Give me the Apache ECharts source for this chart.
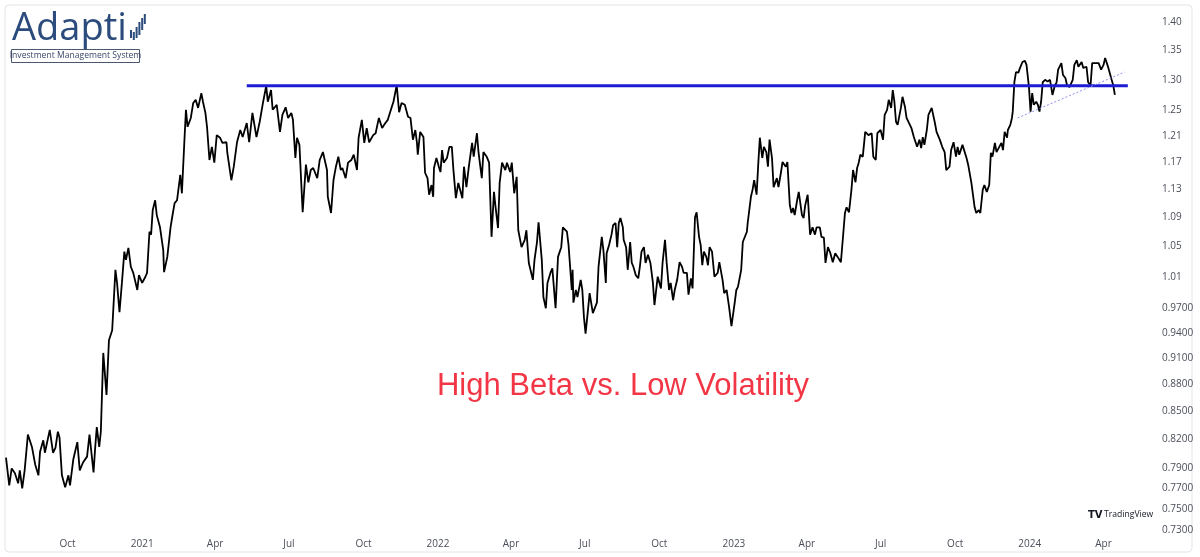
<!DOCTYPE html>
<html>
<head>
<meta charset="utf-8">
<script src="https://cdn.jsdelivr.net/npm/echarts@6/dist/echarts.min.js"></script>
<style>
html,body{margin:0;padding:0;background:#fff;}
#chart{width:1200px;height:557px;}
</style>
</head>
<body>
<div id="chart"></div>
<script>
// ---- Data ----
const dates = [
'2020-07-17','2020-07-21','2020-07-24','2020-07-28','2020-08-01','2020-08-03','2020-08-06','2020-08-09','2020-08-13','2020-08-18',
'2020-08-22','2020-08-26','2020-08-28','2020-09-01','2020-09-03','2020-09-09','2020-09-13','2020-09-16','2020-09-19','2020-09-21',
'2020-09-24','2020-09-28','2020-10-02','2020-10-04','2020-10-08','2020-10-13','2020-10-16','2020-10-20','2020-10-25','2020-10-28',
'2020-11-02','2020-11-04','2020-11-06','2020-11-09','2020-11-11','2020-11-14','2020-11-18','2020-11-21','2020-11-25','2020-11-29',
'2020-12-01','2020-12-04','2020-12-07','2020-12-10','2020-12-12','2020-12-15','2020-12-18','2020-12-21','2020-12-26','2020-12-28',
'2021-01-01','2021-01-05','2021-01-07','2021-01-10','2021-01-12','2021-01-14','2021-01-17','2021-01-19','2021-01-23','2021-01-27',
'2021-01-28','2021-02-01','2021-02-05','2021-02-07','2021-02-10','2021-02-13','2021-02-17','2021-02-19','2021-02-22','2021-02-24',
'2021-02-26','2021-03-02','2021-03-05','2021-03-08','2021-03-11','2021-03-15','2021-03-17','2021-03-20','2021-03-22','2021-03-25',
'2021-03-28','2021-03-31','2021-04-03','2021-04-07','2021-04-10','2021-04-15','2021-04-16','2021-04-21','2021-04-24','2021-04-28',
'2021-05-02','2021-05-05','2021-05-10','2021-05-13','2021-05-17','2021-05-22','2021-05-26','2021-05-30','2021-06-03','2021-06-05',
'2021-06-09','2021-06-11','2021-06-16','2021-06-20','2021-06-23','2021-06-27','2021-06-30','2021-07-04','2021-07-06','2021-07-09',
'2021-07-11','2021-07-14','2021-07-18','2021-07-22','2021-07-25','2021-07-28','2021-07-31','2021-08-05','2021-08-08','2021-08-12',
'2021-08-17','2021-08-18','2021-08-22','2021-08-25','2021-08-28','2021-08-31','2021-09-03','2021-09-05','2021-09-09','2021-09-12',
'2021-09-16','2021-09-19','2021-09-23','2021-09-25','2021-09-29','2021-10-02','2021-10-05','2021-10-08','2021-10-13','2021-10-16',
'2021-10-20','2021-10-24','2021-10-28','2021-10-31','2021-11-05','2021-11-07','2021-11-11','2021-11-14','2021-11-17','2021-11-21',
'2021-11-25','2021-11-28','2021-12-01','2021-12-04','2021-12-06','2021-12-07','2021-12-10','2021-12-14','2021-12-16','2021-12-19',
'2021-12-21','2021-12-24','2021-12-26','2021-12-27','2021-12-30','2022-01-02','2022-01-04','2022-01-06','2022-01-08','2022-01-12',
'2022-01-15','2022-01-18','2022-01-20','2022-01-23','2022-01-26','2022-01-31','2022-02-02','2022-02-05','2022-02-08','2022-02-12',
'2022-02-14','2022-02-18','2022-02-20','2022-02-24','2022-02-26','2022-03-02','2022-03-05','2022-03-08','2022-03-11','2022-03-13',
'2022-03-16','2022-03-18','2022-03-21','2022-03-25','2022-03-27','2022-03-31','2022-04-02','2022-04-05','2022-04-08','2022-04-10',
'2022-04-14','2022-04-18','2022-04-20','2022-04-23','2022-04-28','2022-04-30','2022-05-03','2022-05-05','2022-05-09','2022-05-11',
'2022-05-14','2022-05-16','2022-05-20','2022-05-22','2022-05-26','2022-05-29','2022-06-02','2022-06-04','2022-06-09','2022-06-11',
'2022-06-15','2022-06-16','2022-06-17','2022-06-20','2022-06-22','2022-06-26','2022-06-28','2022-06-30','2022-07-02','2022-07-05',
'2022-07-07','2022-07-11','2022-07-13','2022-07-16','2022-07-18','2022-07-22','2022-07-24','2022-07-27','2022-07-28','2022-07-31',
'2022-08-03','2022-08-05','2022-08-08','2022-08-10','2022-08-12','2022-08-14','2022-08-17','2022-08-18','2022-08-21','2022-08-23',
'2022-08-26','2022-08-28','2022-08-30','2022-09-02','2022-09-05','2022-09-07','2022-09-09','2022-09-12','2022-09-14','2022-09-17',
'2022-09-20','2022-09-23','2022-09-25','2022-09-29','2022-10-03','2022-10-05','2022-10-08','2022-10-10','2022-10-13','2022-10-15',
'2022-10-18','2022-10-20','2022-10-23','2022-10-26','2022-10-29','2022-10-31','2022-11-04','2022-11-06','2022-11-09','2022-11-11',
'2022-11-14','2022-11-16','2022-11-19','2022-11-21','2022-11-23','2022-11-25','2022-11-28','2022-11-30','2022-12-02','2022-12-05',
'2022-12-08','2022-12-12','2022-12-14','2022-12-18','2022-12-20','2022-12-23','2022-12-26','2022-12-29','2023-01-02','2023-01-04',
'2023-01-06','2023-01-10','2023-01-12','2023-01-17','2023-01-18','2023-01-22','2023-01-24','2023-01-26','2023-01-29','2023-01-31',
'2023-02-02','2023-02-05','2023-02-07','2023-02-10','2023-02-12','2023-02-14','2023-02-17','2023-02-19','2023-02-23','2023-02-25',
'2023-02-28','2023-03-02','2023-03-06','2023-03-08','2023-03-11','2023-03-13','2023-03-15','2023-03-17','2023-03-20','2023-03-22',
'2023-03-26','2023-03-28','2023-03-30','2023-04-02','2023-04-03','2023-04-05','2023-04-08','2023-04-11','2023-04-13','2023-04-17',
'2023-04-19','2023-04-22','2023-04-24','2023-04-27','2023-04-30','2023-05-03','2023-05-06','2023-05-09','2023-05-13','2023-05-15',
'2023-05-18','2023-05-20','2023-05-23','2023-05-26','2023-05-28','2023-05-31','2023-06-02','2023-06-04','2023-06-06','2023-06-09',
'2023-06-12','2023-06-16','2023-06-20','2023-06-22','2023-06-25','2023-06-27','2023-07-01','2023-07-04','2023-07-06','2023-07-09',
'2023-07-11','2023-07-14','2023-07-16','2023-07-18','2023-07-20','2023-07-22','2023-07-26','2023-07-28','2023-07-31','2023-08-02',
'2023-08-04','2023-08-08','2023-08-11','2023-08-13','2023-08-15','2023-08-18','2023-08-20','2023-08-22','2023-08-24','2023-08-27',
'2023-08-29','2023-09-02','2023-09-04','2023-09-06','2023-09-08','2023-09-12','2023-09-15','2023-09-18','2023-09-20','2023-09-24',
'2023-09-26','2023-09-29','2023-10-02','2023-10-04','2023-10-06','2023-10-10','2023-10-12','2023-10-15','2023-10-17','2023-10-21',
'2023-10-25','2023-10-27','2023-10-30','2023-11-01','2023-11-04','2023-11-06','2023-11-09','2023-11-12','2023-11-14','2023-11-16',
'2023-11-19','2023-11-21','2023-11-23','2023-11-27','2023-11-29','2023-12-01','2023-12-04','2023-12-05','2023-12-08','2023-12-10',
'2023-12-11','2023-12-13','2023-12-15','2023-12-18','2023-12-20','2023-12-23','2023-12-26','2023-12-28','2023-12-31','2024-01-02',
'2024-01-04','2024-01-06','2024-01-09','2024-01-11','2024-01-13','2024-01-15','2024-01-17','2024-01-20','2024-01-23','2024-01-26',
'2024-01-29','2024-02-01','2024-02-03','2024-02-05','2024-02-09','2024-02-11','2024-02-14','2024-02-16','2024-02-19','2024-02-23',
'2024-02-25','2024-02-28','2024-03-01','2024-03-05','2024-03-07','2024-03-11','2024-03-13','2024-03-16','2024-03-18','2024-03-21',
'2024-03-23','2024-03-26','2024-03-29','2024-04-01','2024-04-03','2024-04-05','2024-04-07','2024-04-09','2024-04-11','2024-04-13',
'2024-04-15'
];
const values = [
0.801,0.773,0.790,0.785,0.775,0.788,0.770,0.788,0.825,0.812,
0.794,0.783,0.807,0.819,0.806,0.830,0.806,0.811,0.828,0.822,
0.783,0.771,0.783,0.773,0.799,0.817,0.788,0.796,0.802,0.825,
0.786,0.811,0.833,0.812,0.828,0.916,0.868,0.931,0.943,1.019,
1.002,0.965,1.002,1.043,1.032,1.048,1.023,1.015,0.993,1.012,
1.002,1.010,1.015,1.070,1.066,1.100,1.114,1.093,1.076,1.045,
1.016,1.036,1.076,1.090,1.110,1.114,1.151,1.124,1.200,1.251,
1.224,1.238,1.262,1.267,1.254,1.278,1.264,1.246,1.224,1.173,
1.193,1.169,1.211,1.207,1.199,1.200,1.184,1.143,1.163,1.200,
1.219,1.208,1.230,1.200,1.246,1.208,1.232,1.262,1.290,1.264,
1.283,1.251,1.259,1.216,1.243,1.255,1.238,1.246,1.235,1.176,
1.207,1.196,1.097,1.166,1.140,1.158,1.161,1.146,1.173,1.185,
1.158,1.119,1.096,1.143,1.163,1.178,1.158,1.161,1.146,1.169,
1.173,1.181,1.158,1.207,1.235,1.199,1.222,1.200,1.211,1.214,
1.238,1.222,1.230,1.235,1.256,1.264,1.291,1.247,1.262,1.259,
1.240,1.238,1.204,1.219,1.199,1.181,1.216,1.208,1.154,1.146,
1.122,1.136,1.119,1.161,1.176,1.163,1.155,1.188,1.169,1.176,
1.193,1.193,1.158,1.117,1.139,1.117,1.163,1.133,1.163,1.199,
1.178,1.214,1.184,1.146,1.185,1.178,1.169,1.063,1.126,1.104,
1.075,1.139,1.169,1.158,1.169,1.155,1.169,1.124,1.148,1.072,
1.049,1.059,1.072,1.028,1.006,1.032,1.055,1.083,1.032,0.984,
0.970,1.002,1.016,1.021,0.970,1.036,1.049,1.076,1.070,1.052,
0.993,1.019,0.977,0.993,0.984,1.006,0.993,0.959,0.939,0.968,
0.989,0.964,0.964,0.977,1.023,1.063,1.045,1.002,1.041,1.052,
1.066,1.079,1.082,1.049,1.082,1.089,1.076,1.059,1.049,1.019,
1.056,1.028,1.023,1.012,1.008,1.023,1.043,1.049,1.028,1.039,
1.028,1.003,0.974,1.010,0.995,1.028,1.059,1.029,0.993,1.002,
0.980,0.993,1.006,1.029,1.023,1.015,1.015,0.987,1.008,0.995,
1.090,1.097,1.063,1.052,1.025,1.043,1.036,1.025,1.049,1.043,
1.010,1.015,1.029,1.006,0.989,0.993,0.972,0.948,0.977,0.993,
0.997,1.019,1.056,1.070,1.082,1.119,1.129,1.143,1.122,1.166,
1.207,1.176,1.193,1.185,1.163,1.204,1.176,1.133,1.146,1.133,
1.154,1.170,1.163,1.170,1.107,1.096,1.103,1.093,1.114,1.126,
1.093,1.089,1.107,1.122,1.104,1.066,1.076,1.066,1.076,1.076,
1.063,1.062,1.028,1.049,1.041,1.029,1.041,1.036,1.029,1.055,
1.096,1.104,1.097,1.129,1.158,1.140,1.161,1.169,1.181,1.178,
1.216,1.211,1.214,1.178,1.173,1.214,1.219,1.204,1.243,1.251,
1.267,1.254,1.283,1.264,1.232,1.227,1.254,1.272,1.256,1.238,
1.240,1.222,1.208,1.207,1.193,1.204,1.191,1.208,1.196,1.219,
1.243,1.254,1.251,1.230,1.216,1.204,1.193,1.185,1.158,1.163,
1.188,1.200,1.178,1.193,1.181,1.196,1.193,1.176,1.166,1.139,
1.104,1.096,1.100,1.096,1.129,1.136,1.126,1.136,1.184,1.178,
1.199,1.185,1.184,1.199,1.188,1.216,1.207,1.219,1.227,1.238,
1.248,1.296,1.313,1.312,1.320,1.330,1.332,1.325,1.288,1.248,
1.278,1.259,1.264,1.259,1.248,1.264,1.296,1.300,1.297,1.300,
1.275,1.291,1.295,1.317,1.328,1.308,1.303,1.291,1.288,1.300,
1.325,1.333,1.322,1.330,1.320,1.322,1.296,1.291,1.328,1.328,
1.330,1.328,1.317,1.325,1.337,1.339,1.320,1.317,1.300,1.291,
1.275
];

// Horizontal resistance line and dotted rising trendline
const resistanceLevel = 1.290;
const resistanceDates = ['2021-05-10', '2024-05-01'];
const trendDates = ['2023-12-17', '2024-04-27'];
const trendValues = [1.238, 1.313];

// Axis ticks
const yTicks = [1.40,1.35,1.30,1.25,1.21,1.17,1.13,1.09,1.05,1.01,0.97,0.94,0.91,0.88,0.85,0.82,0.79,0.77,0.75,0.73];
const yTickLabels = ['1.40','1.35','1.30','1.25','1.21','1.17','1.13','1.09','1.05','1.01','0.9700','0.9400','0.9100','0.8800','0.8500','0.8200','0.7900','0.7700','0.7500','0.7300'];
const xTicks = ['2020-10-01','2021-01-01','2021-04-01','2021-07-01','2021-10-01','2022-01-01','2022-04-01','2022-07-01','2022-10-01','2023-01-01','2023-04-01','2023-07-01','2023-10-01','2024-01-01','2024-04-01'];
const xTickLabels = ['Oct','2021','Apr','Jul','Oct','2022','Apr','Jul','Oct','2023','Apr','Jul','Oct','2024','Apr'];
const xRange = ['2020-07-17', '2024-05-16'];
const yRange = [0.73, 1.40];

const titleText = 'High Beta vs. Low Volatility';

// ---- Chart ----
const el = document.getElementById('chart');
let chart = echarts.init(el, null, {renderer: 'canvas'});
const xTickTimes = xTicks.map(d => echarts.time.parse(d).getTime());
const labelColor = '#4a4e59';
const labelFont = 'Open Sans';
const logoColor = '#2a4b7c';

function nearestLabel(list, labels, v) {
  let best = 0, bd = Infinity;
  list.forEach((t, i) => { const d = Math.abs(t - v); if (d < bd) { bd = d; best = i; } });
  return labels[best];
}

function buildOption(mode) {
  const xAxisLabel = {
    margin: 9, fontSize: 10, fontFamily: labelFont, color: labelColor, hideOverlap: false,
    formatter: function (v) { return nearestLabel(xTickTimes, xTickLabels, v); }
  };
  const xAxis = {
    type: 'time', min: xRange[0], max: xRange[1],
    axisLine: {show: false}, axisTick: {show: false}, splitLine: {show: false},
    axisLabel: xAxisLabel
  };
  if (mode.xCustom) {
    xAxisLabel.customValues = xTicks;
  } else {
    // quarterly ticks; labels are looked up from xTicks / xTickLabels
    xAxis.minInterval = 88 * 86400000;
    xAxis.maxInterval = 93 * 86400000;
  }
  const yAxis = {
    type: 'log', logBase: 10, position: 'right', min: yRange[0], max: yRange[1],
    axisLine: {show: false}, axisTick: {show: false}, splitLine: {show: false},
    axisLabel: {
      show: !!mode.yCustom, margin: 22, fontSize: 10, fontFamily: labelFont, color: labelColor, hideOverlap: false,
      formatter: function (v) { return nearestLabel(yTicks, yTickLabels, v); }
    }
  };
  if (mode.yCustom) yAxis.axisLabel.customValues = yTicks;

  const mainSeries = {
    type: 'line', name: 'High Beta / Low Volatility',
    data: dates.map((d, i) => [d, values[i]]),
    showSymbol: false, symbol: 'none',
    lineStyle: {color: '#000000', width: 1.8},
    z: 3, silent: true
  };
  if (!mode.yCustom) {
    mainSeries.markLine = {
      silent: true, symbol: 'none', animation: false,
      lineStyle: {opacity: 0, width: 0},
      label: {
        position: 'end', distance: 22, fontSize: 10, fontFamily: labelFont, color: labelColor,
        formatter: function (p) { return nearestLabel(yTicks, yTickLabels, p.value); }
      },
      data: yTicks.map(v => ({yAxis: v}))
    };
  }

  return {
    animation: false,
    backgroundColor: '#ffffff',
    grid: {left: 6, right: 60, top: 22, bottom: 27, containLabel: false},
    xAxis: xAxis,
    yAxis: yAxis,
    series: [
      mainSeries,
      {
        type: 'line', name: 'Resistance',
        data: resistanceDates.map(d => [d, resistanceLevel]),
        showSymbol: false, symbol: 'none',
        lineStyle: {color: '#1c1cd4', width: 3}, z: 4, silent: true
      },
      {
        type: 'line', name: 'Trend',
        data: trendDates.map((d, i) => [d, trendValues[i]]),
        showSymbol: false, symbol: 'none',
        lineStyle: {color: '#8f8ff0', width: 1, type: [2, 2]}, z: 4, silent: true
      }
    ],
    graphic: [
      {type: 'rect', shape: {x: 5, y: 5, width: 1187, height: 547, r: 4}, style: {fill: 'none', stroke: '#e3e5ea', lineWidth: 1}, silent: true, z: -1},
      {type: 'text', x: 12, y: 10, style: {text: 'Adapti', font: '38px "Open Sans"', fill: logoColor, verticalAlign: 'top'}, silent: true},
      {type: 'rect', shape: {x: 130, y: 30, width: 2, height: 8}, style: {fill: logoColor}},
      {type: 'rect', shape: {x: 132.8, y: 32, width: 2, height: 8}, style: {fill: logoColor}},
      {type: 'rect', shape: {x: 135.6, y: 27, width: 2, height: 11}, style: {fill: logoColor}},
      {type: 'rect', shape: {x: 138.4, y: 22, width: 2, height: 13}, style: {fill: logoColor}},
      {type: 'rect', shape: {x: 141.2, y: 18, width: 2, height: 12}, style: {fill: logoColor}},
      {type: 'rect', shape: {x: 143.8, y: 14, width: 2, height: 10}, style: {fill: logoColor}},
      {type: 'rect', shape: {x: 11.5, y: 49.5, width: 128, height: 13}, style: {fill: 'none', stroke: '#4b5673', lineWidth: 1}},
      {type: 'text', x: 75.5, y: 56, style: {text: 'Investment Management System', font: '8.6px "Open Sans"', fill: '#3b4868', align: 'center', verticalAlign: 'middle'}},
      {type: 'text', x: 623, y: 386, style: {text: titleText, font: '31px "Liberation Sans"', fill: '#f23645', align: 'center', verticalAlign: 'middle'}},
      {type: 'text', x: 1088, y: 515, style: {text: 'TV', font: 'bold 10px "DejaVu Sans"', fill: '#131722', verticalAlign: 'middle'}},
      {type: 'text', x: 1104, y: 515, style: {text: 'TradingView', font: '8.6px "Open Sans"', fill: '#131722', verticalAlign: 'middle'}}
    ]
  };
}

const modes = [
  {xCustom: false, yCustom: true},
  {xCustom: false, yCustom: false}
];
for (let i = 0; i < modes.length; i++) {
  try {
    chart.setOption(buildOption(modes[i]), true);
    break;
  } catch (e) {
    console.log('mode ' + i + ' failed: ' + e.message);
    chart.dispose();
    chart = echarts.init(el, null, {renderer: 'canvas'});
  }
}
</script>
</body>
</html>
